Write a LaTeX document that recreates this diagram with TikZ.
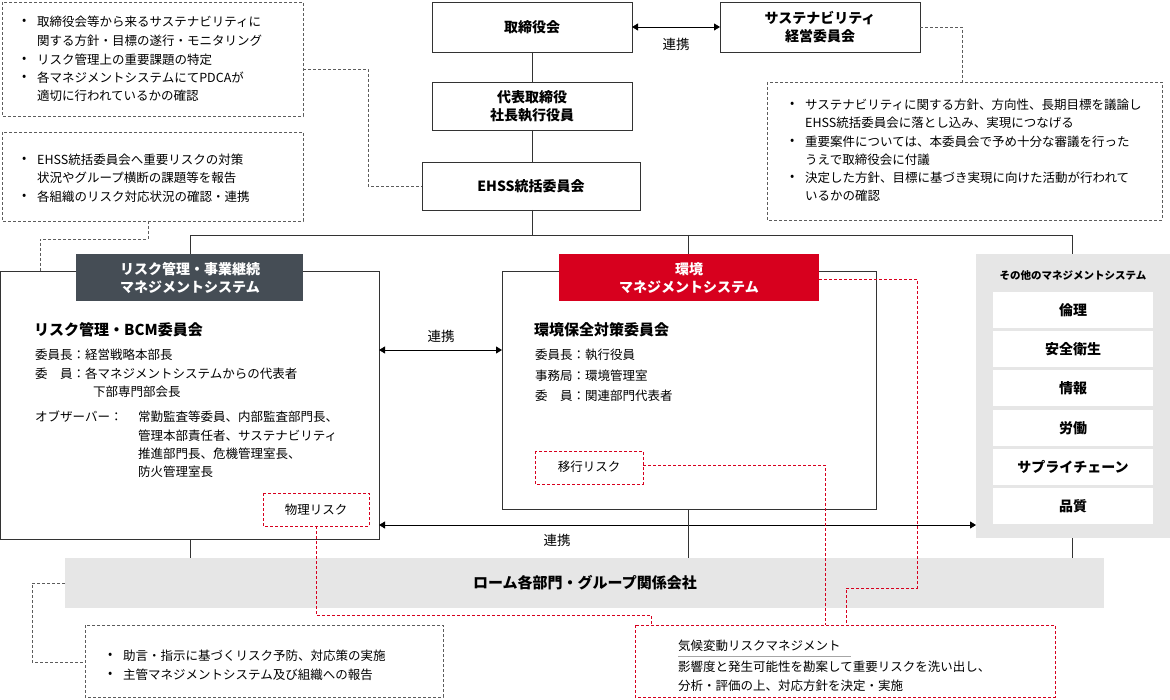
\documentclass[tikz,border=0pt]{standalone}
\usepackage{fontspec}
\setmainfont{Noto Sans CJK JP}
\usetikzlibrary{arrows.meta}
\definecolor{dk}{HTML}{454D55}
\definecolor{rd}{HTML}{D7001E}
\definecolor{gp}{HTML}{E6E6E6}
\definecolor{ln}{HTML}{333333}
\tikzset{
 box/.style={draw=ln,line width=0.8pt,inner sep=0pt},
 dbox/.style={draw=ln!80,line width=0.8pt,dash pattern=on 3pt off 2pt},
 rbox/.style={draw=rd,line width=0.9pt,dash pattern=on 3pt off 2pt},
 t/.style={anchor=west,inner sep=0pt,font=\fontsize{12.5}{15}\selectfont},
 tb/.style={anchor=center,inner sep=0pt,font=\fontsize{14}{18}\selectfont\bfseries,align=center},
 bl/.style={anchor=west,inner sep=0pt,font=\fontsize{12.5}{15}\selectfont},
 con/.style={draw=ln,line width=0.8pt},
 arr/.style={draw=black,line width=0.8pt,{Triangle[length=6pt,width=7pt]}-{Triangle[length=6pt,width=7pt]}},
}
\begin{document}
\begin{tikzpicture}[x=1pt,y=-1pt]
\useasboundingbox (0,0) rectangle (1170,700);
% top boxes
\draw[box] (432,2) rectangle (632,52); \node[tb] (tori) at (532,27) {取締役会};
\draw[box] (720,2) rectangle (920,52); \node[tb] (sus) at (820,27) {サステナビリティ\\経営委員会};
\draw[box] (432,82) rectangle (632,130); \node[tb] (ceo) at (532,106) {代表取締役\\社長執行役員};
\draw[box] (422,162) rectangle (640,210); \node[tb] (ehss) at (531,186) {EHSS統括委員会};
\coordinate (a1) at (632,27); \coordinate (a2) at (720,27);
\draw[arr] (a1) -- (a2); \node[t,anchor=center,font=\fontsize{13.5}{16}\selectfont] (rk1) at (676,44) {連携};
\draw[con] (532,52) -- (532,82) (532,130) -- (532,162) (532,210) -- (532,235);
\draw[con] (190,271) -- (190,235) -- (1072,235) -- (1072,254);
\draw[con] (688,235) -- (688,271);
% top-left dashed boxes
\draw[dbox] (2,2) rectangle (303,116);
\foreach \y in {22,60,78}{\node[bl] at (22,\y) {•};}
\node[t] at (37,22) {取締役会等から来るサステナビリティに};
\node[t] at (37,41) {関する方針・目標の遂行・モニタリング};
\node[t] at (37,60) {リスク管理上の重要課題の特定};
\node[t] at (37,78) {各マネジメントシステムにてPDCAが};
\node[t] at (37,96) {適切に行われているかの確認};
\draw[dbox] (303,69) -- (368,69) -- (368,186) -- (422,186);
\draw[dbox] (2,132) rectangle (303,221);
\foreach \y in {160,197}{\node[bl] at (22,\y) {•};}
\node[t] at (37,160) {EHSS統括委員会へ重要リスクの対策};
\node[t] at (37,178) {状況やグループ横断の課題等を報告};
\node[t] at (37,197) {各組織のリスク対応状況の確認・連携};
\draw[dbox] (148,221) -- (148,239) -- (40,239) -- (40,271);
% right dashed box
\draw[dbox] (767,82) rectangle (1162,220);
\draw[dbox] (920,27) -- (962,27) -- (962,82);
\foreach \y in {105,142,178}{\node[bl] at (790,\y) {•};}
\node[t] at (805,105) {サステナビリティに関する方針、方向性、長期目標を議論し};
\node[t] at (805,123) {EHSS統括委員会に落とし込み、実現につなげる};
\node[t] at (805,142) {重要案件については、本委員会で予め十分な審議を行った};
\node[t] at (805,160) {うえで取締役会に付議};
\node[t] at (805,178) {決定した方針、目標に基づき実現に向けた活動が行われて};
\node[t] at (805,196) {いるかの確認};
% left big box
\draw[box] (0,271) rectangle (379,539);
\fill[dk] (76,254) rectangle (303,301);
\node[tb,text=white] (lh) at (190,278) {リスク管理・事業継続\\マネジメントシステム};
\node[t,font=\fontsize{15}{18}\selectfont\bfseries] at (34,330) {リスク管理・BCM委員会};
\node[t] at (35,355) {委員長：経営戦略本部長};
\node[t] at (35,374) {委\hspace{1em}員：各マネジメントシステムからの代表者};
\node[t] at (93,392) {下部専門部会長};
\node[t] at (35,417) {オブザーバー：};
\node[t] at (138,417) {常勤監査等委員、内部監査部門長、};
\node[t] at (138,436) {管理本部責任者、サステナビリティ};
\node[t] at (138,454) {推進部門長、危機管理室長、};
\node[t] at (138,472) {防火管理室長};
\draw[rbox] (263,493) rectangle (369,526); \node[t,anchor=center] (phy) at (316,510) {物理リスク};
% middle box
\draw[box] (502,271) rectangle (876,509);
\fill[rd] (559,254) rectangle (819,301);
\node[tb,text=white] (mh) at (689,278) {環境\\マネジメントシステム};
\node[t,font=\fontsize{15}{18}\selectfont\bfseries] at (534,330) {環境保全対策委員会};
\node[t] at (535,355) {委員長：執行役員};
\node[t] at (535,376) {事務局：環境管理室};
\node[t] at (535,396) {委\hspace{1em}員：関連部門代表者};
\draw[rbox] (535,451) rectangle (643,484); \node[t,anchor=center] (tr) at (589,467) {移行リスク};
% arrows
\draw[arr] (379,350) -- (502,350); \node[t,anchor=center,font=\fontsize{13.5}{16}\selectfont] at (441,336) {連携};
\draw[arr] (379,525) -- (976,525); \node[t,anchor=center,font=\fontsize{13.5}{16}\selectfont] at (557,540) {連携};
% right panel
\fill[gp] (976,254) rectangle (1170,538);
\node[t,anchor=center,font=\fontsize{10.5}{12}\selectfont\bfseries] at (1073,276) {その他のマネジメントシステム};
\foreach \y/\s in {292/倫理,331/安全衛生,370/情報,410/労働,449/サプライチェーン,488/品質}{
 \fill[white] (993,\y) rectangle (1153,\y+36);
 \node[tb] at (1073,\y+18) {\s};}
% verticals to bottom bar
\draw[con] (190,539) -- (190,558) (688,509) -- (688,558) (1072,538) -- (1072,558);
\fill[gp] (65,558) rectangle (1104,608);
\node[tb,font=\fontsize{15}{18}\selectfont\bfseries] (bar) at (585,583) {ローム各部門・グループ関係会社};
% bottom left box
\draw[dbox] (85,625) rectangle (443,697);
\draw[dbox] (65,583) -- (32,583) -- (32,662) -- (85,662);
\node[bl] at (108,656) {•}; \node[bl] at (108,675) {•};
\node[t] at (123,656) {助言・指示に基づくリスク予防、対応策の実施};
\node[t] at (123,675) {主管マネジメントシステム及び組織への報告};
% bottom right box
\draw[rbox] (635,625) rectangle (1055,697);
\node[t] (cl) at (678,646) {気候変動リスクマネジメント};
\draw[gray!70,line width=0.8pt] (678,656) -- (851,656);
\node[t] at (678,667) {影響度と発生可能性を勘案して重要リスクを洗い出し、};
\node[t] at (678,686) {分析・評価の上、対応方針を決定・実施};
% red connectors
\draw[rbox] (316,526) -- (316,615) -- (651,615) -- (651,625);
\draw[rbox] (643,465) -- (825,465) -- (825,625);
\draw[rbox] (819,279) -- (917,279) -- (917,588) -- (846,588) -- (846,625);
\end{tikzpicture}
\end{document}
